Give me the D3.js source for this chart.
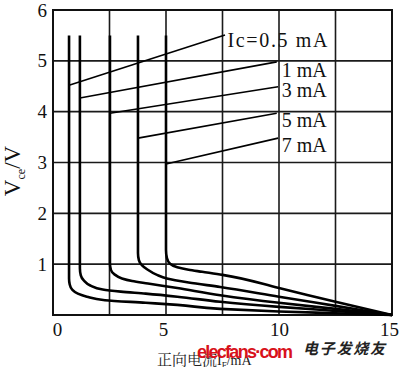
<!DOCTYPE html>
<html><head><meta charset="utf-8">
<script src="https://cdn.jsdelivr.net/npm/d3@7/dist/d3.min.js"></script>
<style>
html,body{margin:0;padding:0;background:#fff;}
svg{display:block;}
</style></head>
<body>
<script>
// ---- data ----
const xTicks = [0, 5, 10, 15];
const yTicks = [1, 2, 3, 4, 5, 6];
const xGrid = [0, 2.5, 5, 7.5, 10, 12.5, 15];
const yGrid = [0, 1, 2, 3, 4, 5, 6];
const seriesNames = ["Ic=0.5 mA", "1 mA", "3 mA", "5 mA", "7 mA"];
const curve05 = [[0.71,5.5],[0.71,0.72],[0.74,0.6],[0.85,0.5],[1.1,0.42],[1.5,0.36],[2.3,0.29],[4.1,0.24],[5.5,0.2],[7.4,0.12],[10,0.07],[12.5,0.035],[15,0]];
const curve1  = [[1.19,5.5],[1.19,0.92],[1.23,0.78],[1.36,0.68],[1.65,0.58],[2.2,0.5],[3.0,0.46],[4.1,0.42],[5.5,0.36],[7.4,0.26],[10,0.16],[12.5,0.08],[15,0]];
const curve3  = [[2.52,5.5],[2.52,1.02],[2.56,0.89],[2.72,0.8],[3.05,0.72],[3.5,0.67],[4.2,0.62],[5.5,0.53],[7.4,0.39],[10,0.24],[12.5,0.12],[15,0]];
const curve5  = [[3.76,5.5],[3.76,1.22],[3.8,1.08],[3.93,0.98],[4.16,0.9],[4.6,0.79],[5.04,0.72],[6.0,0.64],[7.4,0.55],[10,0.36],[12.5,0.18],[15,0]];
const curve7  = [[5.0,5.5],[5.0,1.28],[5.04,1.12],[5.18,1.01],[5.5,0.94],[6.0,0.89],[6.6,0.85],[7.5,0.79],[10,0.53],[12.5,0.26],[15,0]];
const leaderStart = [[0.71,4.52],[1.19,4.27],[2.52,3.97],[3.76,3.48],[5.0,2.97]];
const leaderEnd   = [[7.61,5.51],[9.9,4.98],[9.96,4.49],[9.9,3.97],[9.96,3.48]];
const labelAt     = [[7.72,5.41],[10.12,4.82],[10.12,4.43],[10.12,3.84],[10.12,3.34]];
const yTitle = ["V", "ce", "/V"];
const xTitle = ["正向电流", "I", "F", "/mA"];
const watermark = ["elecfans·com", "电子发烧友"];

const curves = [curve05, curve1, curve3, curve5, curve7];

// ---- drawing ----
const W = 400, H = 367;
const svg = d3.select("body").append("svg").attr("width", W).attr("height", H);
const x = d3.scaleLinear().domain([0, 15]).range([53, 392]);
const y = d3.scaleLinear().domain([0, 6]).range([315, 10]);
const serif = "'Liberation Serif','DejaVu Serif',serif";

// grid
const g = svg.append("g").attr("stroke", "#1a1a1a").attr("stroke-width", 1.6);
g.selectAll("line.v").data(xGrid).join("line")
  .attr("x1", d => x(d)).attr("x2", d => x(d)).attr("y1", y(0)).attr("y2", y(6));
g.selectAll("line.h").data(yGrid).join("line")
  .attr("x1", x(0)).attr("x2", x(15)).attr("y1", d => y(d)).attr("y2", d => y(d));
svg.append("rect").attr("x", x(0)).attr("y", y(6)).attr("width", x(15) - x(0)).attr("height", y(0) - y(6))
  .attr("fill", "none").attr("stroke", "#111").attr("stroke-width", 2);

// axes labels
const ax = svg.append("g").attr("transform", `translate(0,${y(0)})`)
  .call(d3.axisBottom(x).tickValues(xTicks).tickSize(0).tickPadding(8).tickFormat(d3.format("d")));
ax.select(".domain").remove();
ax.selectAll("text").attr("font-family", serif).attr("font-size", 19).attr("fill", "#111")
  .attr("dx", d => d === 0 ? 4 : d === 15 ? -3 : d === 5 ? -3 : 0);

const ay = svg.append("g").attr("transform", `translate(${x(0)},0)`)
  .call(d3.axisLeft(y).tickValues(yTicks).tickSize(0).tickPadding(6).tickFormat(d3.format("d")));
ay.select(".domain").remove();
ay.selectAll("text").attr("font-family", serif).attr("font-size", 19).attr("fill", "#111");

// curves
const line = d3.line().x(d => x(d[0])).y(d => y(d[1])).curve(d3.curveMonotoneY);
svg.append("g").selectAll("path").data(curves).join("path")
  .attr("d", line).attr("fill", "none").attr("stroke", "#000").attr("stroke-width", 2.6)
  .attr("stroke-linejoin", "round");

// leader lines
svg.append("g").selectAll("line").data(leaderStart).join("line")
  .attr("x1", d => x(d[0])).attr("y1", d => y(d[1]))
  .attr("x2", (d, i) => x(leaderEnd[i][0])).attr("y2", (d, i) => y(leaderEnd[i][1]))
  .attr("stroke", "#000").attr("stroke-width", 1.6);

// series labels
svg.append("g").selectAll("text").data(seriesNames).join("text")
  .attr("x", (d, i) => x(labelAt[i][0])).attr("y", (d, i) => y(labelAt[i][1]))
  .attr("dominant-baseline", "central")
  .attr("font-family", serif).attr("font-size", 20).attr("fill", "#111")
  .attr("textLength", (d, i) => i === 0 ? 100 : null)
  .text(d => d);

// y title
const yt = svg.append("text").attr("transform", "translate(20,171) rotate(-90)")
  .attr("text-anchor", "middle").attr("font-family", serif).attr("font-size", 23).attr("fill", "#111");
yt.append("tspan").text(yTitle[0]);
yt.append("tspan").attr("font-size", 12).attr("dy", 5).text(yTitle[1]);
yt.append("tspan").attr("dy", -5).text(yTitle[2]);

// x title
const xt = svg.append("text").attr("x", 157).attr("y", 365)
  .attr("font-family", "'Noto Serif CJK SC','Noto Sans CJK SC',serif").attr("font-size", 15).attr("fill", "#222");
xt.append("tspan").text(xTitle[0]);
xt.append("tspan").attr("font-family", serif).attr("font-size", 14).text(xTitle[1]);
xt.append("tspan").attr("font-family", serif).attr("font-size", 9).attr("dy", 3).text(xTitle[2]);
xt.append("tspan").attr("font-family", serif).attr("font-size", 14).attr("dy", -3).text(xTitle[3]);

// watermark
svg.append("text").attr("x", 197).attr("y", 358)
  .attr("font-family", "'Liberation Sans',Arial,sans-serif").attr("font-weight", "bold")
  .attr("font-size", 18).attr("fill", "#d8121b").attr("textLength", 96).text(watermark[0]);
svg.append("text").attr("x", 303).attr("y", 354)
  .attr("font-family", "'Noto Sans CJK SC',sans-serif").attr("font-weight", "bold").attr("font-style", "italic")
  .attr("font-size", 15).attr("fill", "#222").attr("textLength", 82).text(watermark[1]);
</script>
</body></html>
